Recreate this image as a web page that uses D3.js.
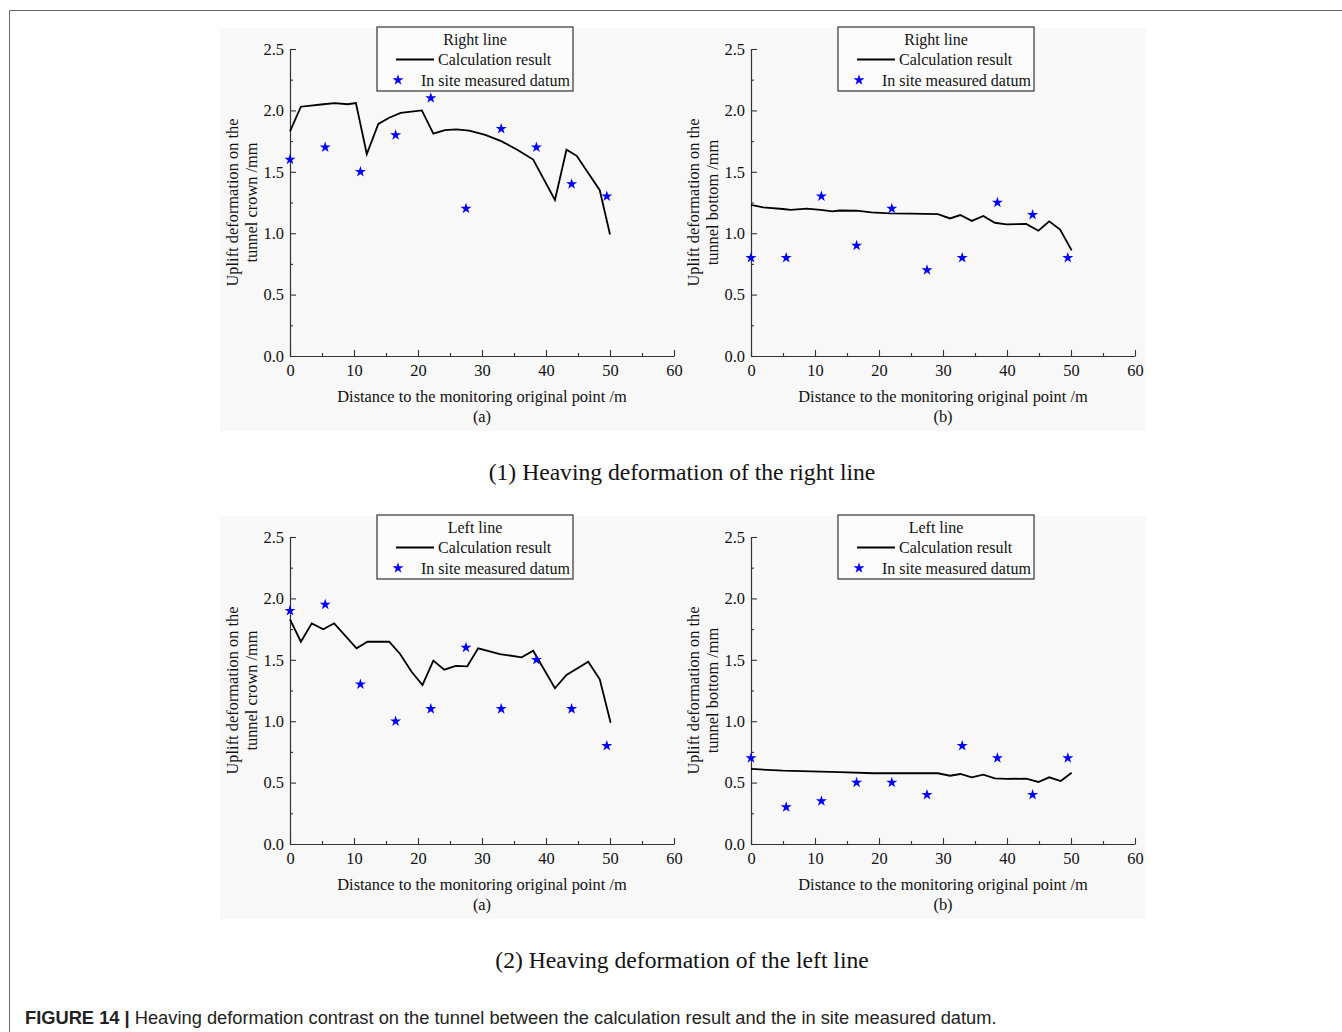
<!DOCTYPE html>
<html>
<head>
<meta charset="utf-8">
<script src="https://cdn.jsdelivr.net/npm/d3@7"></script>
<style>
  html, body { margin: 0; padding: 0; background: #ffffff; }
  svg { display: block; }
</style>
</head>
<body>
<svg id="chart" width="1342" height="1032"></svg>
<script>
// ---------------- DATA ----------------
const xTicks = [0, 10, 20, 30, 40, 50, 60];
const yTicks = [0.0, 0.5, 1.0, 1.5, 2.0, 2.5];
const measuredX = [0, 5.5, 11, 16.5, 22, 27.5, 33, 38.5, 44, 49.5];

// (1)(a) Right line, tunnel crown
const calcRightCrown = [[0,1.83],[1.7,2.03],[5.2,2.05],[7,2.06],[9,2.05],[10.3,2.06],[12,1.645],[13.8,1.89],[15.5,1.94],[17.3,1.98],[20.6,2.0],[22.4,1.81],[24.2,1.84],[26,1.845],[28,1.835],[30.5,1.80],[33,1.75],[35.5,1.68],[38,1.60],[41.4,1.27],[43.2,1.68],[44.8,1.63],[48.4,1.35],[50,0.99]];
const measRightCrown = [1.6, 1.7, 1.5, 1.8, 2.1, 1.2, 1.85, 1.7, 1.4, 1.3];

// (1)(b) Right line, tunnel bottom
const calcRightBottom = [[0,1.23],[1.9,1.21],[5,1.197],[6.2,1.19],[8.7,1.20],[10.9,1.19],[12.7,1.178],[13.9,1.185],[16.5,1.183],[18.8,1.17],[21.7,1.162],[25,1.16],[29.2,1.156],[31.1,1.12],[32.7,1.148],[34.5,1.10],[36.3,1.14],[38.1,1.085],[39.9,1.072],[43,1.075],[44.9,1.02],[46.6,1.097],[48.3,1.03],[50.1,0.86]];
const measRightBottom = [0.8, 0.8, 1.3, 0.9, 1.2, 0.7, 0.8, 1.25, 1.15, 0.8];

// (2)(a) Left line, tunnel crown
const calcLeftCrown = [[0,1.83],[1.7,1.647],[3.4,1.797],[5.2,1.748],[6.9,1.797],[10.4,1.594],[12.1,1.647],[15.5,1.647],[17.2,1.547],[19,1.403],[20.7,1.295],[22.4,1.493],[24.1,1.42],[25.9,1.45],[27.7,1.447],[29.4,1.594],[32.8,1.547],[36.2,1.52],[38,1.574],[41.4,1.268],[43.2,1.376],[46.6,1.485],[48.4,1.341],[50.1,0.988]];
const measLeftCrown = [1.9, 1.95, 1.3, 1.0, 1.1, 1.6, 1.1, 1.5, 1.1, 0.8];

// (2)(b) Left line, tunnel bottom
const calcLeftBottom = [[0,0.611],[5,0.597],[13.9,0.586],[19.1,0.576],[29.2,0.576],[31.1,0.556],[32.7,0.57],[34.5,0.543],[36.3,0.565],[38.1,0.535],[39.9,0.53],[43,0.532],[44.9,0.505],[46.6,0.543],[48.4,0.513],[50.1,0.58]];
const measLeftBottom = [0.7, 0.3, 0.35, 0.5, 0.5, 0.4, 0.8, 0.7, 0.4, 0.7];

const legendTitles = ["Right line", "Left line"];
const seriesNames = ["Calculation result", "In site measured datum"];
const yTitleLine1 = "Uplift deformation on the";
const yTitleCrown = "tunnel crown /mm";
const yTitleBottom = "tunnel bottom /mm";
const xTitle = "Distance to the monitoring original point /m";
const sectionTitles = ["(1) Heaving deformation of the right line", "(2) Heaving deformation of the left line"];
const captionBold = "FIGURE 14 | ";
const captionText = "Heaving deformation contrast on the tunnel between the calculation result and the in site measured datum.";

// ---------------- DRAW ----------------
const svg = d3.select("#chart");
const SERIF = "'Liberation Serif', 'Times New Roman', serif";
const FS = 16.4;
const LFS = 16;

// outer frame
svg.append("line").attr("x1", 9.5).attr("y1", 10.5).attr("x2", 1342).attr("y2", 10.5).attr("stroke", "#666").attr("stroke-width", 1);
svg.append("line").attr("x1", 9.5).attr("y1", 10.5).attr("x2", 9.5).attr("y2", 1032).attr("stroke", "#666").attr("stroke-width", 1);

// light figure backgrounds
[28, 516].forEach(y0 => {
  svg.append("rect").attr("x", 220).attr("y", y0).attr("width", 926).attr("height", 403).attr("fill", "#f8f8f8");
});

function drawPanel(left, top, calc, meas, legendTitle, yLine2, label) {
  const W = 384, H = 307;
  const x = d3.scaleLinear().domain([0, 60]).range([left, left + W]);
  const y = d3.scaleLinear().domain([0, 2.5]).range([top + H, top]);
  const g = svg.append("g");

  const minorX = d3.range(5, 60, 10);
  const minorY = d3.range(0.25, 2.5, 0.5);

  const xAxis = d3.axisBottom(x).tickValues(xTicks).tickFormat(d3.format("d")).tickSizeInner(-6).tickSizeOuter(0).tickPadding(8);
  g.append("g").attr("transform", `translate(0,${top + H})`).call(xAxis);
  g.append("g").attr("transform", `translate(0,${top + H})`)
    .call(d3.axisBottom(x).tickValues(minorX).tickFormat("").tickSizeInner(-3).tickSizeOuter(0))
    .select(".domain").remove();

  const yAxis = d3.axisLeft(y).tickValues(yTicks).tickFormat(d3.format(".1f")).tickSizeInner(-6).tickSizeOuter(0).tickPadding(5);
  const gy = g.append("g").attr("transform", `translate(${left},0)`).call(yAxis);
  g.append("g").attr("transform", `translate(${left},0)`)
    .call(d3.axisLeft(y).tickValues(minorY).tickFormat("").tickSizeInner(-3).tickSizeOuter(0))
    .select(".domain").remove();

  g.selectAll(".domain").attr("stroke", "#333").attr("stroke-width", 1.2);
  g.selectAll(".tick line").attr("stroke", "#333").attr("stroke-width", 1.1);
  g.selectAll(".tick text").attr("font-family", SERIF).attr("font-size", FS).attr("fill", "#111");
  gy.selectAll(".tick text").attr("dx", "-1");

  // calculation line
  g.append("path").datum(calc)
    .attr("d", d3.line().x(d => x(d[0])).y(d => y(d[1])))
    .attr("fill", "none").attr("stroke", "#000").attr("stroke-width", 1.8).attr("stroke-linejoin", "miter");

  // measured stars
  const star = d3.symbol().type(d3.symbolStar).size(38);
  g.selectAll(".star").data(meas).enter().append("path")
    .attr("d", star)
    .attr("transform", (d, i) => `translate(${x(measuredX[i])},${y(d)})`)
    .attr("fill", "#0000ff");

  // axis titles
  g.append("text").attr("x", left + 192).attr("y", top + H + 46).attr("text-anchor", "middle")
    .attr("font-family", SERIF).attr("font-size", FS).attr("fill", "#111").text(xTitle);
  g.append("text").attr("x", left + 192).attr("y", top + H + 66).attr("text-anchor", "middle")
    .attr("font-family", SERIF).attr("font-size", FS).attr("fill", "#111").text(label);
  const cy = top + H / 2;
  g.append("text").attr("transform", `translate(${left - 52},${cy}) rotate(-90)`).attr("text-anchor", "middle")
    .attr("font-family", SERIF).attr("font-size", FS).attr("fill", "#111").text(yTitleLine1);
  g.append("text").attr("transform", `translate(${left - 33},${cy}) rotate(-90)`).attr("text-anchor", "middle")
    .attr("font-family", SERIF).attr("font-size", FS).attr("fill", "#111").text(yLine2);

  // legend
  const lx = left + 87, ly = top - 22;
  const lg = g.append("g").attr("transform", `translate(${lx},${ly})`);
  lg.append("rect").attr("x", 0).attr("y", 0).attr("width", 196).attr("height", 64)
    .attr("fill", "#ffffff").attr("fill-opacity", 0.5).attr("stroke", "#333").attr("stroke-width", 1.2);
  lg.append("text").attr("x", 98).attr("y", 18).attr("text-anchor", "middle")
    .attr("font-family", SERIF).attr("font-size", LFS).attr("fill", "#111").text(legendTitle);
  lg.append("line").attr("x1", 19).attr("x2", 57).attr("y1", 32.5).attr("y2", 32.5).attr("stroke", "#000").attr("stroke-width", 1.8);
  lg.append("text").attr("x", 61).attr("y", 38)
    .attr("font-family", SERIF).attr("font-size", LFS).attr("fill", "#111").text(seriesNames[0]);
  lg.append("path").attr("d", star).attr("transform", "translate(21,53)").attr("fill", "#0000ff");
  lg.append("text").attr("x", 44).attr("y", 59)
    .attr("font-family", SERIF).attr("font-size", LFS).attr("fill", "#111").text(seriesNames[1]);
}

drawPanel(290, 49, calcRightCrown, measRightCrown, legendTitles[0], yTitleCrown, "(a)");
drawPanel(751, 49, calcRightBottom, measRightBottom, legendTitles[0], yTitleBottom, "(b)");
drawPanel(290, 537, calcLeftCrown, measLeftCrown, legendTitles[1], yTitleCrown, "(a)");
drawPanel(751, 537, calcLeftBottom, measLeftBottom, legendTitles[1], yTitleBottom, "(b)");

// section titles
svg.append("text").attr("x", 682).attr("y", 480).attr("text-anchor", "middle")
  .attr("font-family", SERIF).attr("font-size", 23.6).attr("fill", "#111").text(sectionTitles[0]);
svg.append("text").attr("x", 682).attr("y", 968).attr("text-anchor", "middle")
  .attr("font-family", SERIF).attr("font-size", 23.6).attr("fill", "#111").text(sectionTitles[1]);

// caption
const cap = svg.append("text").attr("x", 25).attr("y", 1024)
  .attr("font-family", "'Liberation Sans', Arial, sans-serif").attr("font-size", 18.3).attr("fill", "#222");
cap.append("tspan").attr("font-weight", "bold").text(captionBold);
cap.append("tspan").text(captionText);
</script>
</body>
</html>
